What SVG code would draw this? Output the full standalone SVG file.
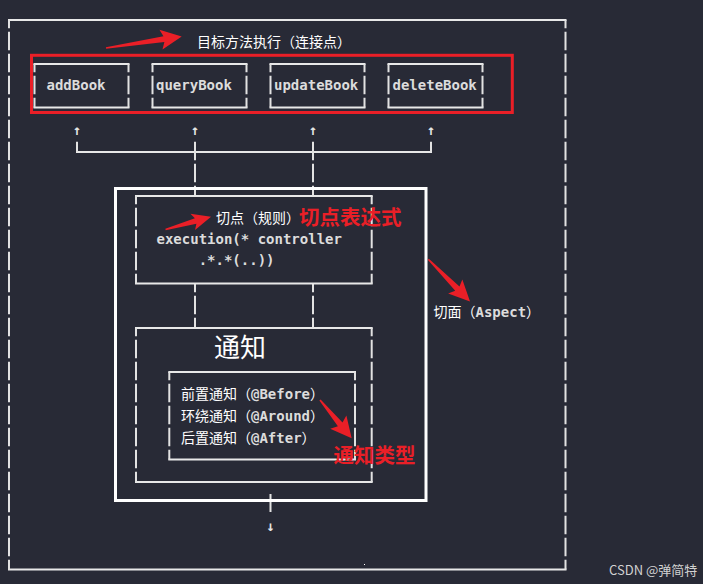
<svg xmlns="http://www.w3.org/2000/svg" width="707" height="584" viewBox="0 0 707 584">
<defs>
<style>
.h{stroke:#e8e8e8;stroke-width:2;fill:none;stroke-linecap:square}
.v{stroke:#e2e2e2;stroke-width:2;fill:none;stroke-dasharray:18.5 3.5;stroke-dashoffset:10.25}
.v0{stroke:#e2e2e2;stroke-width:2;fill:none;stroke-dasharray:18.5 3.5;stroke-dashoffset:0}
.s{stroke:#e2e2e2;stroke-width:2;fill:none}
.mono{font-family:"DejaVu Sans Mono","Liberation Mono",monospace;font-size:14px;font-weight:bold;fill:#dcdcdc}
.cjk{font-family:"DejaVu Sans Mono","Noto Sans CJK SC",monospace;font-size:14px;fill:#ffffff}
.b{font-weight:bold;fill:#dcdcdc}
.arr{font-family:"DejaVu Sans Mono",monospace;font-size:14px;font-weight:bold;fill:#e6e6e6;text-anchor:middle}
.red{fill:#ea1f27}
.redt{font-family:"Noto Sans CJK SC",sans-serif;font-weight:bold;font-size:20.5px;fill:#ea1f27}
</style>
</defs>
<rect width="707" height="584" fill="#282a36"/>
<rect x="703" y="0" width="4" height="584" fill="#ffffff"/>

<g id="frame">
<line class="h" x1="9" y1="20" x2="565.5" y2="20"/>
<line class="h" x1="9" y1="569.5" x2="565.5" y2="569.5"/>
<line class="v" x1="9" y1="20" x2="9" y2="569.5"/>
<line class="v" x1="565.5" y1="20" x2="565.5" y2="569.5"/>
<text class="cjk" x="197" y="47">目标方法执行（连接点）</text>
</g>

<g id="node-addBook">
<line class="h" x1="34.5" y1="64" x2="128.5" y2="64"/>
<line class="h" x1="34.5" y1="107.5" x2="128.5" y2="107.5"/>
<line class="v" x1="34.5" y1="64" x2="34.5" y2="107.5"/>
<line class="v" x1="128.5" y1="64" x2="128.5" y2="107.5"/>
<text class="mono" x="46.5" y="90">addBook</text>
</g>
<g id="node-queryBook">
<line class="h" x1="152.5" y1="64" x2="246.5" y2="64"/>
<line class="h" x1="152.5" y1="107.5" x2="246.5" y2="107.5"/>
<line class="v" x1="152.5" y1="64" x2="152.5" y2="107.5"/>
<line class="v" x1="246.5" y1="64" x2="246.5" y2="107.5"/>
<text class="mono" x="156" y="90">queryBook</text>
</g>
<g id="node-updateBook">
<line class="h" x1="270.5" y1="64" x2="364.5" y2="64"/>
<line class="h" x1="270.5" y1="107.5" x2="364.5" y2="107.5"/>
<line class="v" x1="270.5" y1="64" x2="270.5" y2="107.5"/>
<line class="v" x1="364.5" y1="64" x2="364.5" y2="107.5"/>
<text class="mono" x="274" y="90">updateBook</text>
</g>
<g id="node-deleteBook">
<line class="h" x1="388.5" y1="64" x2="482.5" y2="64"/>
<line class="h" x1="388.5" y1="107.5" x2="482.5" y2="107.5"/>
<line class="v" x1="388.5" y1="64" x2="388.5" y2="107.5"/>
<line class="v" x1="482.5" y1="64" x2="482.5" y2="107.5"/>
<text class="mono" x="392.5" y="90">deleteBook</text>
</g>

<g id="connectors">
<text class="arr" x="77" y="135">↑</text>
<text class="arr" x="195" y="135">↑</text>
<text class="arr" x="313" y="135">↑</text>
<text class="arr" x="431" y="135">↑</text>
<line class="h" x1="77" y1="152" x2="431" y2="152"/>
<line class="s" x1="77" y1="141.75" x2="77" y2="152"/>
<line class="s" x1="431" y1="141.75" x2="431" y2="152"/>
<line class="v0" x1="195" y1="141.75" x2="195" y2="196"/>
<line class="v0" x1="313" y1="141.75" x2="313" y2="196"/>
<line class="v" x1="195" y1="284" x2="195" y2="328"/>
<line class="v" x1="313" y1="284" x2="313" y2="328"/>
<line class="s" x1="270.5" y1="494" x2="270.5" y2="512"/>
<text class="arr" x="270.5" y="531">↓</text>
</g>

<g id="aspect">
<rect x="115.5" y="188.5" width="310.5" height="312" fill="none" stroke="#ffffff" stroke-width="3"/>
<text class="cjk" x="433.5" y="316.5">切面（<tspan class="b">Aspect</tspan>）</text>
</g>

<g id="pointcut">
<line class="h" x1="136" y1="196" x2="371.7" y2="196"/>
<line class="h" x1="136" y1="283.5" x2="371.7" y2="283.5"/>
<line class="v" x1="136" y1="196" x2="136" y2="283.5"/>
<line class="v" x1="371.7" y1="196" x2="371.7" y2="283.5"/>
<text class="cjk" x="216" y="222.5">切点（规则）</text>
<text class="mono" x="156.5" y="243.5">execution(* controller</text>
<text class="mono" x="156.5" y="265" xml:space="preserve">     .*.*(..))</text>
</g>

<g id="advice">
<line class="h" x1="136" y1="328" x2="371.7" y2="328"/>
<line class="h" x1="136" y1="482" x2="371.7" y2="482"/>
<line class="v" x1="136" y1="328" x2="136" y2="482"/>
<line class="v" x1="371.7" y1="328" x2="371.7" y2="482"/>
<text x="214" y="356.5" font-family="Noto Sans CJK SC, sans-serif" font-size="26" fill="#ffffff">通知</text>
</g>

<g id="advice-types">
<line class="h" x1="169.3" y1="372" x2="355" y2="372"/>
<line class="h" x1="169.3" y1="459.5" x2="355" y2="459.5"/>
<line class="v" x1="169.3" y1="372" x2="169.3" y2="459.5"/>
<line class="v" x1="355" y1="372" x2="355" y2="459.5"/>
<text class="cjk" x="181" y="398.5">前置通知（<tspan class="b">@Before</tspan>）</text>
<text class="cjk" x="181" y="420.5">环绕通知（<tspan class="b">@Around</tspan>）</text>
<text class="cjk" x="181" y="442.5">后置通知（<tspan class="b">@After</tspan>）</text>
</g>

<g id="annotations">
<rect x="31.5" y="55.3" width="480.8" height="57.2" fill="none" stroke="#ea1f27" stroke-width="3"/>
<polygon class="red" transform="translate(106,48) rotate(-8.7)" points="0,-0.8 58.6,-3 55.6,-10 76.6,0 55.6,10 58.6,3 0,0.8"/>
<polygon class="red" transform="translate(165.5,229.5) rotate(-15.7)" points="0,-0.7 31.3,-2.8 28.3,-8.5 47.3,0 28.3,8.5 31.3,2.8 0,0.7"/>
<polygon class="red" transform="translate(428.3,259.3) rotate(45.3)" points="0,-0.8 41.3,-3 38.3,-10 59.3,0 38.3,10 41.3,3 0,0.8"/>
<polygon class="red" transform="translate(320,400) rotate(50.4)" points="0,-0.8 31.7,-3 28.7,-10.5 49.7,0 28.7,10.5 31.7,3 0,0.8"/>
<text class="redt" x="299" y="224.5">切点表达式</text>
<text class="redt" x="333.5" y="463">通知类型</text>
<rect x="364" y="564" width="1" height="1" fill="#ffffff"/>
<text x="609" y="574.5" font-family="Noto Sans CJK SC, sans-serif" font-size="13" fill="#d2d2d2">CSDN @弹简特</text>
</g>
</svg>
